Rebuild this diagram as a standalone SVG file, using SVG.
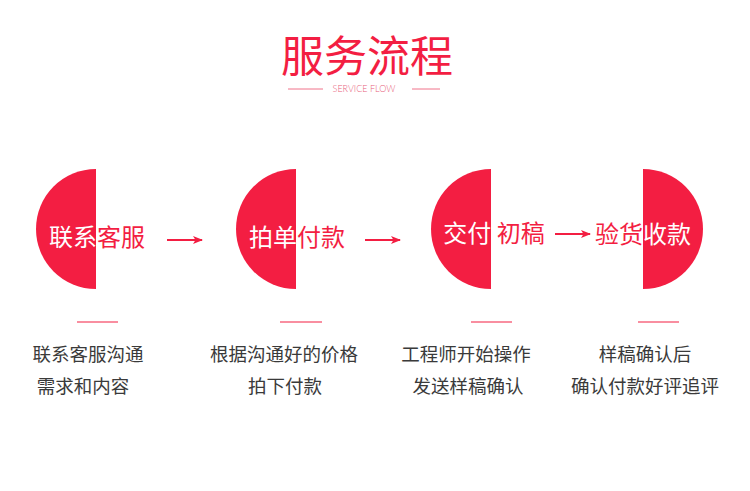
<svg xmlns="http://www.w3.org/2000/svg" width="750" height="491" viewBox="0 0 750 491">
<style>
.red{fill:#f31e42}
.lbl{font-family:"Noto Sans CJK SC","Noto Sans",sans-serif;font-size:24px;text-anchor:middle}
.lr{fill:#f31e42}
.lw{fill:#ffffff}
.desc{font-family:"Noto Sans CJK SC","Noto Sans",sans-serif;font-size:18.5px;fill:#3a3a3a;text-anchor:middle}
.ul{stroke:#f31e42;stroke-width:1.2}
.conn{stroke:#f31e42;stroke-width:2;fill:none}
</style>
<defs>
<marker id="ah" viewBox="0 0 10 8" refX="9" refY="4" markerWidth="10" markerHeight="8" markerUnits="userSpaceOnUse" orient="auto">
<path d="M0,0 L10,4 L0,8 L2.5,4 Z" fill="#f31e42"/>
</marker>
<clipPath id="c1"><path d="M96,169 A60,60 0 0 0 96,289 Z"/></clipPath>
<clipPath id="c2"><path d="M296,169 A60,60 0 0 0 296,289 Z"/></clipPath>
<clipPath id="c3"><path d="M491,169 A60,60 0 0 0 491,289 Z"/></clipPath>
<clipPath id="c4"><path d="M643,169 A60,60 0 0 1 643,289 Z"/></clipPath>
</defs>
<rect width="750" height="491" fill="#ffffff"/>
<g id="title">
<text x="367" y="72" font-family="Noto Sans CJK SC,Noto Sans,sans-serif" font-size="43" fill="#f31e42" text-anchor="middle">服务流程</text>
<text x="364" y="92" font-family="Lato,Open Sans,sans-serif" font-size="9" fill="#e8607a" text-anchor="middle" font-weight="300">SERVICE FLOW</text>
<line x1="288" y1="89" x2="323" y2="89" stroke="#f0738a" stroke-width="1"/>
<line x1="412" y1="89" x2="440" y2="89" stroke="#f0738a" stroke-width="1"/>
</g>
<g id="node1">
<path class="red" d="M96,169 A60,60 0 0 0 96,289 Z"/>
<text class="lbl lr" x="97" y="246">联系客服</text>
<text class="lbl lw" x="97" y="246" clip-path="url(#c1)">联系客服</text>
<line class="ul" x1="77" y1="322" x2="118" y2="322"/>
<text class="desc" x="88" y="361">联系客服沟通</text>
<text class="desc" x="83" y="393">需求和内容</text>
</g>
<g id="node2">
<path class="red" d="M296,169 A60,60 0 0 0 296,289 Z"/>
<text class="lbl lr" x="297" y="246">拍单付款</text>
<text class="lbl lw" x="297" y="246" clip-path="url(#c2)">拍单付款</text>
<line class="ul" x1="280" y1="322" x2="322" y2="322"/>
<text class="desc" x="284" y="361">根据沟通好的价格</text>
<text class="desc" x="285" y="393">拍下付款</text>
</g>
<g id="node3">
<path class="red" d="M491,169 A60,60 0 0 0 491,289 Z"/>
<text class="lbl lr" x="494" y="242">交付 初稿</text>
<text class="lbl lw" x="494" y="242" clip-path="url(#c3)">交付 初稿</text>
<line class="ul" x1="471" y1="322" x2="512" y2="322"/>
<text class="desc" x="466" y="361">工程师开始操作</text>
<text class="desc" x="468" y="393">发送样稿确认</text>
</g>
<g id="node4">
<path class="red" d="M643,169 A60,60 0 0 1 643,289 Z"/>
<text class="lbl lr" x="643" y="243">验货收款</text>
<text class="lbl lw" x="643" y="243" clip-path="url(#c4)">验货收款</text>
<line class="ul" x1="638" y1="322" x2="679" y2="322"/>
<text class="desc" x="645" y="361">样稿确认后</text>
<text class="desc" x="645" y="393">确认付款好评追评</text>
</g>
<g id="connectors">
<line class="conn" x1="167" y1="240" x2="202" y2="240" marker-end="url(#ah)"/>
<line class="conn" x1="365" y1="240" x2="400" y2="240" marker-end="url(#ah)"/>
<line class="conn" x1="555" y1="234" x2="590" y2="234" marker-end="url(#ah)"/>
</g>
</svg>
